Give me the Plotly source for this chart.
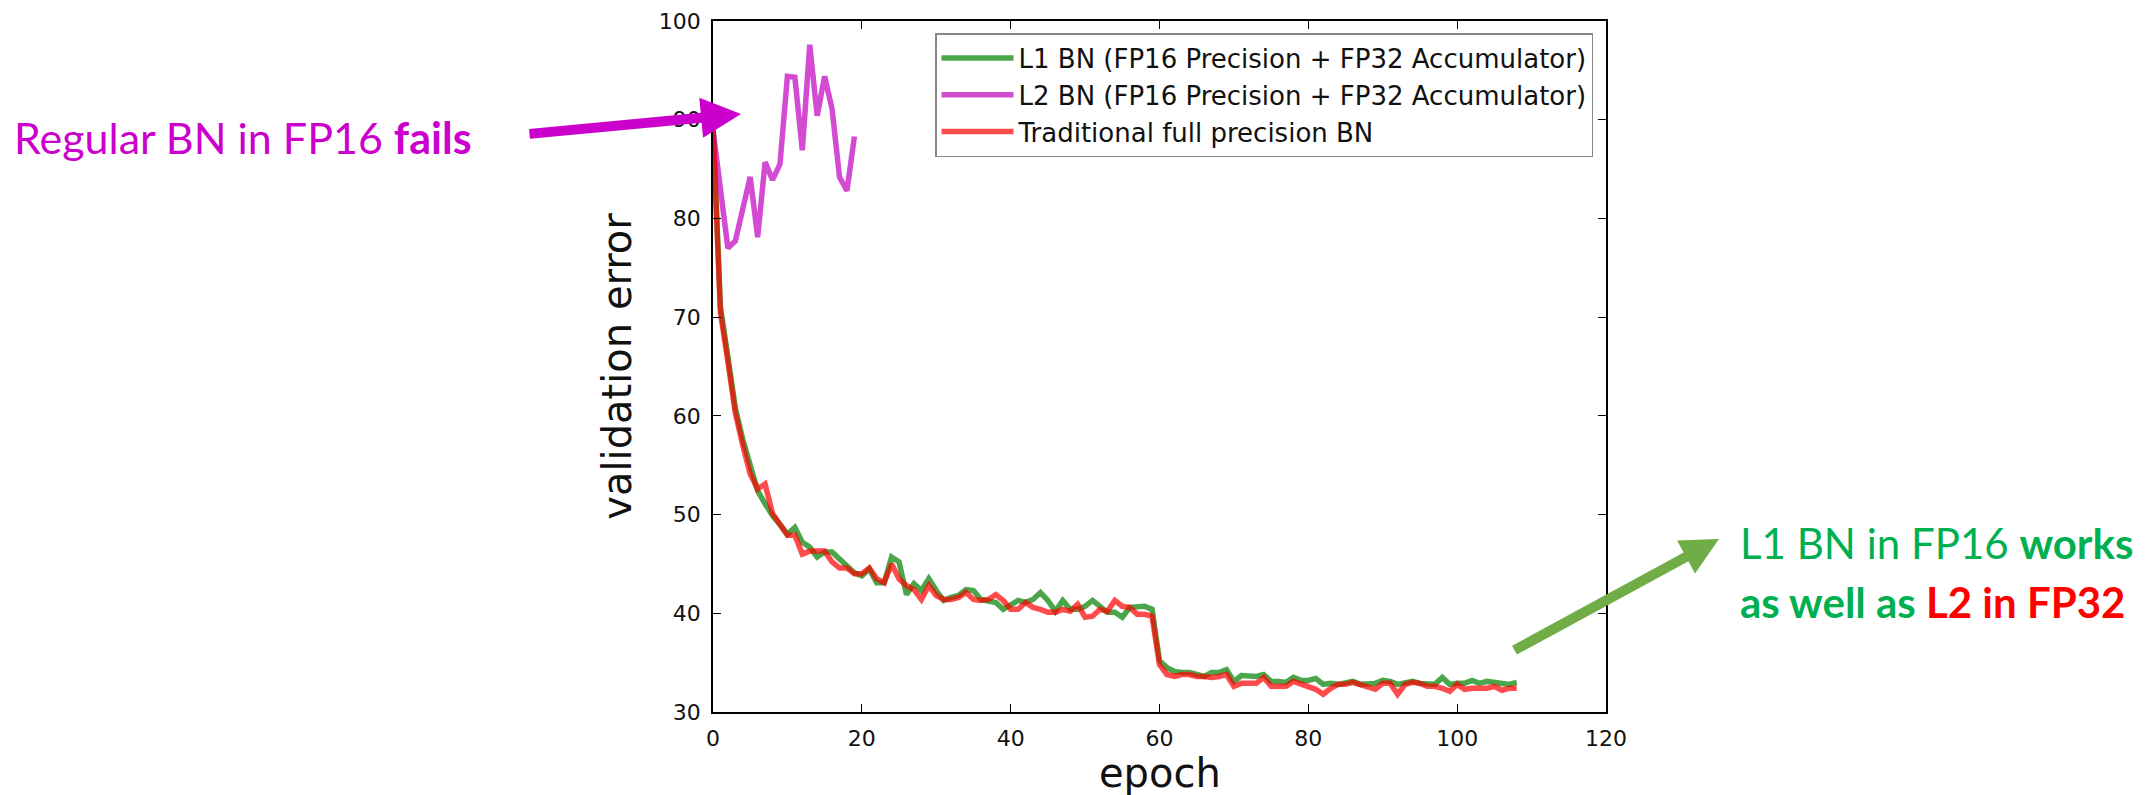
import plotly.graph_objects as go

epochs_l2 = list(range(20))
l2_bn = [89.0, 83.0, 77.0, 77.7, 81.0, 84.2, 78.1, 85.7, 83.9, 85.5,
         94.4, 94.3, 86.9, 97.6, 90.4, 94.4, 91.1, 84.2, 82.8, 88.3]

epochs = list(range(109))
l1_bn = [89.5, 71.0, 66.0, 60.8, 57.6, 54.8, 52.4, 51.1, 49.9, 49.0,
         48.0, 48.7, 47.2, 46.7, 45.7, 46.2, 46.2, 45.5, 44.8, 44.1,
         43.8, 44.5, 43.1, 43.1, 45.7, 45.2, 41.9, 43.0, 42.3, 43.5,
         42.3, 41.3, 41.6, 41.8, 42.4, 42.3, 41.4, 41.3, 41.1, 40.4,
         40.9, 41.3, 41.1, 41.4, 42.1, 41.3, 40.2, 41.3, 40.4, 40.4,
         40.7, 41.3, 40.7, 40.1, 40.1, 39.6, 40.6, 40.6, 40.7, 40.4,
         35.2, 34.5, 34.1, 34.0, 34.0, 33.8, 33.6, 34.0, 34.0, 34.3,
         33.1, 33.7, 33.7, 33.6, 33.8, 33.1, 33.1, 33.0, 33.5, 33.2,
         33.2, 33.4, 32.8, 32.9, 32.8, 33.0, 33.1, 32.8, 32.8, 32.9,
         33.2, 33.1, 32.8, 32.9, 33.1, 32.9, 32.9, 32.8, 33.5, 32.8,
         32.9, 32.9, 33.2, 32.9, 33.1, 33.0, 32.8, 32.8, 33.0]
trad_bn = [89.0, 70.5, 65.5, 60.3, 57.0, 54.1, 52.6, 53.1, 50.1, 49.0,
           47.9, 47.9, 46.0, 46.3, 46.3, 46.3, 45.2, 44.6, 44.6, 44.0,
           44.0, 44.6, 43.5, 43.1, 45.0, 43.5, 42.8, 42.4, 41.4, 42.8,
           41.8, 41.4, 41.4, 41.6, 42.1, 41.4, 41.3, 41.4, 41.9, 41.3,
           40.4, 40.4, 41.1, 40.6, 40.4, 40.1, 40.1, 40.4, 40.2, 40.9,
           39.6, 39.7, 40.4, 40.2, 41.3, 40.7, 40.6, 39.9, 39.9, 39.7,
           34.8, 33.8, 33.6, 33.8, 33.8, 33.6, 33.6, 33.5, 33.6, 33.8,
           32.6, 32.9, 32.9, 32.9, 33.5, 32.6, 32.6, 32.6, 33.1, 32.8,
           32.6, 32.3, 31.8, 32.4, 32.8, 32.8, 33.0, 32.8, 32.6, 32.3,
           32.9, 32.9, 31.8, 32.8, 33.0, 32.9, 32.6, 32.6, 32.4, 32.1,
           32.8, 32.3, 32.4, 32.4, 32.4, 32.6, 32.2, 32.4, 32.4]

names = ["L1 BN (FP16 Precision + FP32 Accumulator)",
         "L2 BN (FP16 Precision + FP32 Accumulator)",
         "Traditional full precision BN"]
x_ticks = [0, 20, 40, 60, 80, 100, 120]
y_ticks = [30, 40, 50, 60, 70, 80, 90, 100]

W, H = 2151, 795
L, R, T, B = 713, 1606, 21, 712   # plot area in page pixels


def px(X):
    return (X - L) / (R - L)


def py(Y):
    return (B - Y) / (B - T)


fig = go.Figure()
fig.add_trace(go.Scatter(x=epochs, y=l1_bn, mode="lines", name=names[0],
                         line=dict(color="#008000", width=5.5), opacity=0.7,
                         legendgroup="a"))
fig.add_trace(go.Scatter(x=epochs_l2, y=l2_bn, mode="lines", name=names[1],
                         line=dict(color="#bf00bf", width=5.5), opacity=0.7,
                         legendgroup="b"))
fig.add_trace(go.Scatter(x=epochs, y=trad_bn, mode="lines", name=names[2],
                         line=dict(color="#ff0000", width=5.5), opacity=0.7,
                         legendgroup="c"))

axis_common = dict(showline=True, linecolor="black", linewidth=1.5,
                   mirror="ticks", ticks="inside", ticklen=8, tickwidth=1.2,
                   tickcolor="black", showgrid=False, zeroline=False,
                   tickfont=dict(family="DejaVu Sans", size=22, color="#111"))

fig.update_xaxes(range=[0, 120], tickvals=x_ticks, ticklabelstandoff=6,
                 **axis_common)
fig.update_yaxes(range=[30, 100], tickvals=y_ticks, ticklabelstandoff=6,
                 title=dict(text="validation error",
                            font=dict(family="DejaVu Sans", size=40, color="#111")),
                 **axis_common)

calib = "Lato"
annotations = [
    # x-axis title
    dict(x=0.5, y=py(773), xref="paper", yref="paper", text="epoch",
         showarrow=False, xanchor="center", yanchor="middle",
         font=dict(family="DejaVu Sans", size=40, color="#111")),
    # magenta arrow
    dict(x=px(741), y=py(114), xref="paper", yref="paper", text="",
         showarrow=True, ax=528 - 741, ay=134 - 114, arrowcolor="#CC00CC",
         arrowwidth=10, arrowhead=2, arrowsize=0.8),
    # green arrow
    dict(x=px(1719), y=py(539), xref="paper", yref="paper", text="",
         showarrow=True, ax=1513 - 1719, ay=651 - 539, arrowcolor="#70AD47",
         arrowwidth=10, arrowhead=2, arrowsize=0.75),
    dict(x=px(12), y=py(137), xref="paper", yref="paper",
         text="Regular BN in FP16 <b>fails</b>", showarrow=False,
         xanchor="left", yanchor="middle",
         font=dict(family=calib, size=43, color="#CC00CC")),
    dict(x=px(1738), y=py(543), xref="paper", yref="paper",
         text="L1 BN in FP16 <b>works</b>", showarrow=False,
         xanchor="left", yanchor="middle",
         font=dict(family=calib, size=42, color="#00B050")),
    dict(x=px(1738), y=py(602), xref="paper", yref="paper",
         text="<b>as well as </b><b><span style='color:#FF0000'>L2 in FP32</span></b>",
         showarrow=False, xanchor="left", yanchor="middle",
         font=dict(family=calib, size=42, color="#00B050")),
]

fig.update_layout(
    width=W, height=H,
    margin=dict(l=L, r=W - R, t=T, b=H - B, autoexpand=False),
    paper_bgcolor="white", plot_bgcolor="white",
    showlegend=True,
    legend=dict(x=px(1593), xanchor="right", y=py(33), yanchor="top",
                bgcolor="white", bordercolor="#888", borderwidth=1.5,
                font=dict(family="DejaVu Sans", size=26, color="#111"),
                itemwidth=72, tracegroupgap=6, traceorder="normal"),
    annotations=annotations,
)

fig.write_html(
    "out.html",
    config={"displayModeBar": False},
    post_script="document.body.style.margin='0';document.body.style.overflow='hidden';",
)
